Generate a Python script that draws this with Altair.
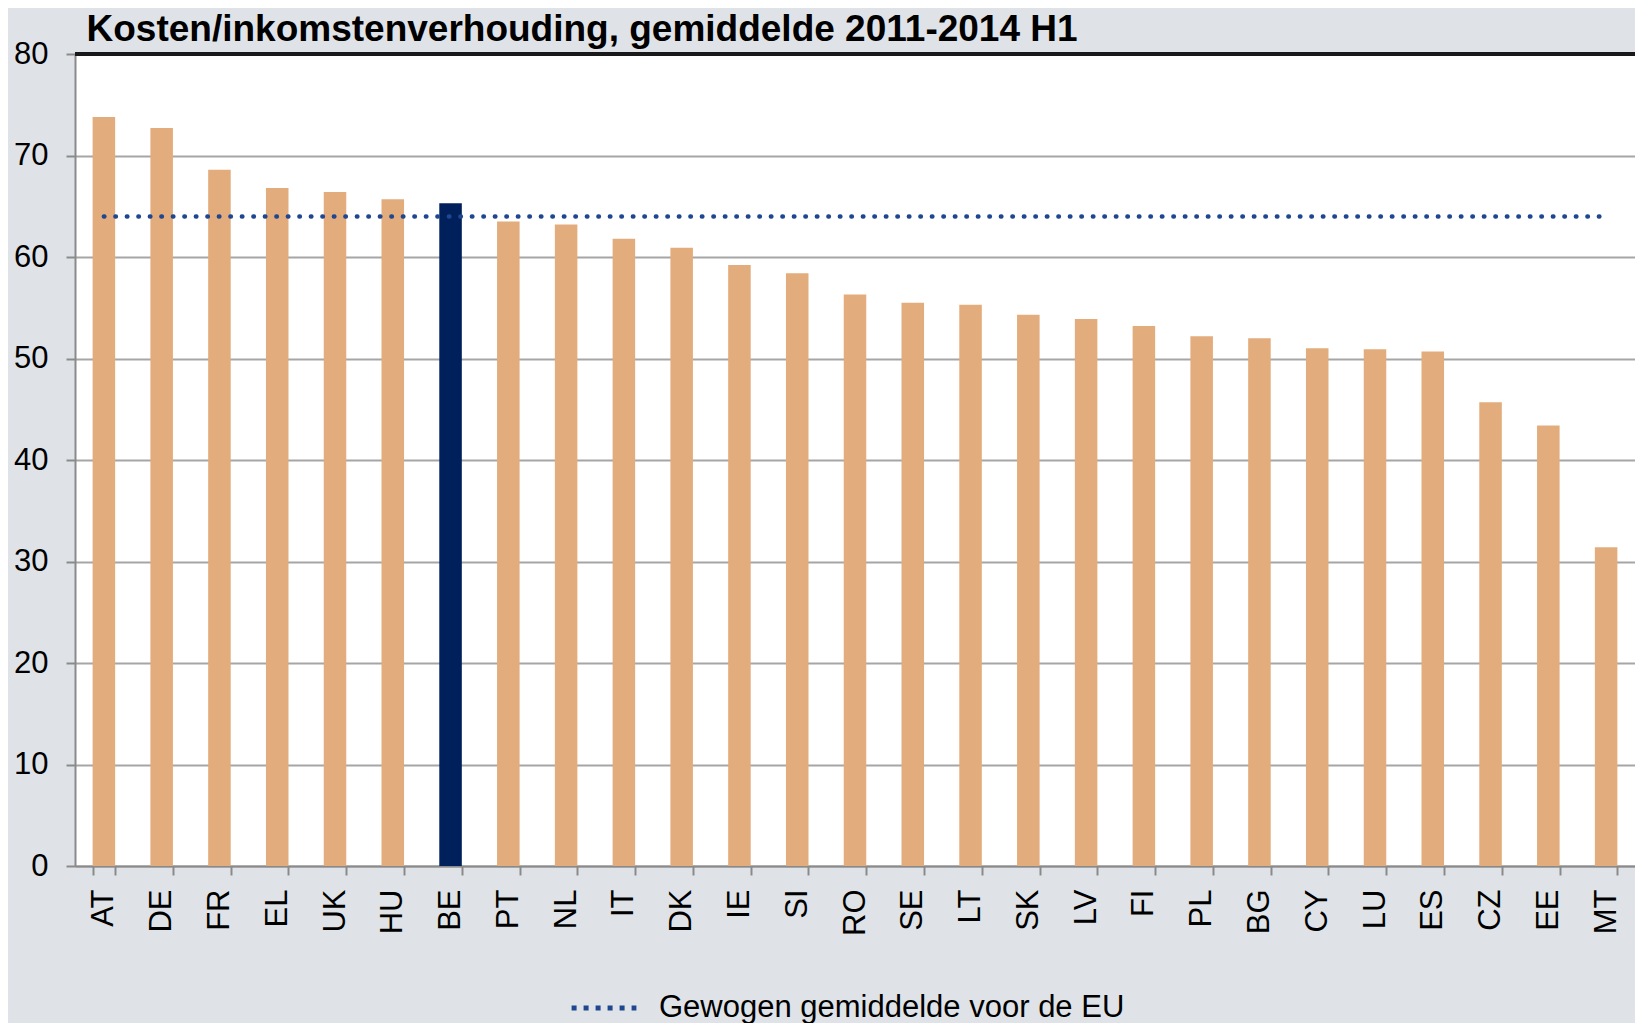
import altair as alt
import pandas as pd

title_text = "Kosten/inkomstenverhouding, gemiddelde 2011-2014 H1"
legend_label = "Gewogen gemiddelde voor de EU"

countries = ["AT", "DE", "FR", "EL", "UK", "HU", "BE", "PT", "NL", "IT", "DK", "IE", "SI", "RO",
             "SE", "LT", "SK", "LV", "FI", "PL", "BG", "CY", "LU", "ES", "CZ", "EE", "MT"]
values = [73.8, 72.7, 68.6, 66.8, 66.4, 65.7, 65.3, 63.5, 63.2, 61.8, 60.9, 59.2, 58.4, 56.3,
          55.5, 55.3, 54.3, 53.9, 53.2, 52.2, 52.0, 51.0, 50.9, 50.7, 45.7, 43.4, 31.4]
highlight = "BE"
eu_average = 64.0
y_ticks = [0, 10, 20, 30, 40, 50, 60, 70, 80]
y_max = 80

bars_df = pd.DataFrame({"land": countries, "waarde": values})
avg_df = pd.DataFrame({
    "land": [countries[0], countries[-1]],
    "waarde": [eu_average, eu_average],
    "reeks": [legend_label, legend_label],
})

FONT = "Liberation Sans"

x_enc = alt.X(
    "land:N",
    sort=countries,
    scale=alt.Scale(paddingInner=0.61, paddingOuter=0.305),
    axis=alt.Axis(
        title=None, labelAngle=270, tickBand="extent", grid=False,
        labelPadding=14, labelFontSize=31,
    ),
)
y_enc = alt.Y(
    "waarde:Q",
    scale=alt.Scale(domain=[0, y_max], nice=False),
    axis=alt.Axis(title=None, values=y_ticks, grid=True, labelPadding=18, labelFontSize=31),
)

bars = alt.Chart(bars_df).mark_bar().encode(
    x=x_enc,
    y=y_enc,
    color=alt.condition(alt.datum.land == highlight, alt.value("#00205B"), alt.value("#E3AC7C")),
)

top_border = alt.Chart(bars_df).mark_rule(color="#1A1A1A", strokeWidth=2.5).encode(
    y=alt.datum(y_max)
)

avg_line = alt.Chart(avg_df).mark_line(
    strokeDash=[0.5, 11], strokeCap="round", strokeWidth=4.5
).encode(
    x=alt.X("land:N", sort=countries),
    y=alt.Y("waarde:Q"),
    color=alt.Color(
        "reeks:N",
        scale=alt.Scale(range=["#1F4690"]),
        legend=alt.Legend(
            title=None, orient="none", legendX=494, legendY=919,
            symbolType="stroke", symbolDash=[5, 7], symbolStrokeWidth=5,
            symbolSize=4200, labelFontSize=31, labelFont=FONT, labelColor="#000000",
            labelOffset=20, labelLimit=0,
        ),
    ),
)

chart = alt.layer(bars, top_border, avg_line).properties(
    width=1560,
    height=812,
    title=alt.TitleParams(
        title_text, anchor="start", fontSize=37, font=FONT, fontWeight="bold",
        color="#000000", dx=73, offset=-11,
    ),
    autosize=alt.AutoSizeParams(type="none"),
    padding={"left": 67, "top": 46, "right": 0, "bottom": 157},
    background="#DFE3E8",
).configure_view(
    fill="#FFFFFF", stroke=None,
).configure_axis(
    labelFont=FONT, labelColor="#000000",
    domainColor="#8A8A8A", domainWidth=2,
    tickColor="#8A8A8A", tickWidth=2, tickSize=9,
    gridColor="#A6A6A6", gridWidth=2,
)

chart.save("out.html", embed_options={"renderer": "svg", "actions": False})
